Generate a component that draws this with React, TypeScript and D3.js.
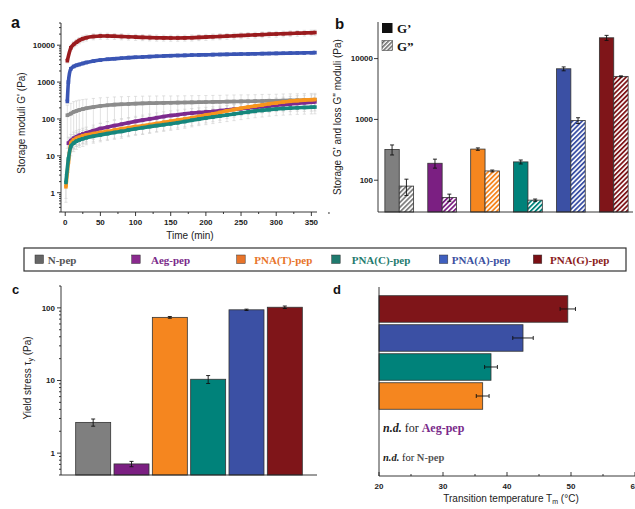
import React from "react";
import * as d3 from "d3";

const W = 635;
const H = 509;

// ---------- shared categories ----------
const peptides = ["N-pep", "Aeg-pep", "PNA(T)-pep", "PNA(C)-pep", "PNA(A)-pep", "PNA(G)-pep"];
const barColors = ["#7f7f7f", "#7b1f82", "#f5861f", "#00827a", "#3b50a4", "#7f1519"];
const lineColors = ["#8c8c8c", "#7d2a8e", "#f7941d", "#16877d", "#3a55b4", "#9a1b1e"];
const legendSwatch = ["#666666", "#8a2a8e", "#e8742a", "#1f7a6e", "#3f5fbf", "#7a0f14"];
const legendText = ["#555555", "#7a2a8a", "#e8742a", "#1f7a6e", "#3a4fa0", "#8a1a1a"];

// ---------- panel a: G' vs time ----------
const timeMin = [1, 3, 4.5, 8, 12, 16, 20, 25, 30, 40, 50, 60, 70, 80, 90, 100, 110, 120, 130, 140, 150, 160, 170, 180, 190, 200, 210, 220, 230, 240, 250, 260, 270, 280, 290, 300, 310, 320, 330, 340, 350, 355];
const gN = [null, 126, null, 140, 155, 165, 175, 185, 195, 210, 225, 235, 245, 250, 255, 260, 265, 268, 270, 273, 275, 278, 280, 282, 285, 287, 290, 292, 295, 297, 300, 302, 305, 307, 310, 313, 316, 319, 322, 325, 328, 330];
const sdN = [null, 110, null, 125, 140, 145, 150, 150, 150, 150, 150, 150, 150, 150, 150, 150, 150, 150, 150, 150, 145, 145, 145, 145, 145, 145, 145, 145, 150, 150, 150, 150, 150, 155, 155, 155, 160, 160, 160, 165, 165, 165];
const gAeg = [null, null, 22, 26, 30, 33, 36, 39, 42, 48, 55, 60, 66, 72, 79, 86, 93, 100, 108, 116, 124, 130, 138, 144, 150, 155, 160, 168, 175, 183, 190, 198, 206, 214, 224, 234, 244, 254, 264, 274, 284, 290];
const sdAeg = [null, null, 10, 12, 14, 15, 16, 17, 18, 20, 22, 24, 26, 28, 30, 32, 34, 36, 38, 40, 42, 44, 46, 48, 50, 52, 54, 56, 58, 60, 62, 64, 66, 68, 70, 72, 74, 76, 78, 80, 82, 84];
const gT = [1.45, null, 6.6, 22, 27, 30, 32, 35, 37, 40, 43, 46, 50, 54, 58, 62, 65, 70, 75, 81, 87, 93, 100, 108, 117, 127, 137, 150, 166, 180, 195, 210, 225, 240, 258, 272, 288, 302, 315, 325, 332, 336];
const sdT = [0.9, null, 3, 9, 11, 12, 13, 14, 15, 16, 17, 18, 20, 21, 23, 24, 26, 28, 30, 32, 34, 36, 39, 42, 45, 49, 53, 58, 63, 68, 73, 78, 83, 88, 93, 98, 103, 108, 112, 116, 120, 122];
const gC = [1.9, null, 8.2, 18, 22, 25, 27, 29, 31, 34, 37, 40, 43, 46, 50, 54, 58, 62, 66, 70, 74, 79, 85, 92, 99, 106, 113, 120, 128, 136, 145, 154, 163, 171, 179, 186, 192, 197, 201, 205, 208, 210];
const sdC = [1.2, null, 4, 8, 9, 10, 10, 11, 11, 12, 13, 14, 15, 16, 17, 18, 20, 21, 22, 24, 25, 27, 29, 31, 33, 36, 38, 40, 43, 46, 49, 52, 55, 58, 60, 63, 65, 67, 68, 70, 71, 72];
const gA = [null, 300, 1000, 2300, 2650, 2850, 3000, 3200, 3400, 3700, 3950, 4150, 4300, 4450, 4600, 4700, 4800, 4900, 5000, 5100, 5200, 5250, 5300, 5400, 5450, 5500, 5550, 5600, 5650, 5700, 5750, 5800, 5850, 5900, 5950, 6000, 6050, 6100, 6150, 6200, 6250, 6300];
const sdA = [null, 40, 100, 200, 220, 240, 250, 260, 280, 300, 320, 330, 340, 350, 360, 370, 380, 390, 400, 400, 410, 410, 420, 420, 430, 430, 440, 440, 440, 450, 450, 460, 460, 460, 470, 470, 480, 480, 480, 490, 490, 500];
const gG = [null, 3800, null, 8500, 10500, 12000, 13500, 15000, 16000, 17200, 17800, 17800, 17500, 17200, 16900, 16600, 16300, 16100, 15900, 15800, 15700, 15700, 15800, 16000, 16300, 16600, 17000, 17300, 17600, 18000, 18300, 18700, 19000, 19400, 19800, 20100, 20500, 20800, 21200, 21500, 21800, 22000];
const sdG = [null, 500, null, 1500, 2000, 2300, 2600, 2800, 3000, 3200, 3300, 3300, 3200, 3200, 3100, 3100, 3000, 3000, 3000, 2900, 2900, 2900, 2900, 3000, 3000, 3100, 3100, 3200, 3200, 3300, 3300, 3400, 3400, 3500, 3500, 3600, 3600, 3700, 3700, 3800, 3800, 3800];
const aTicksX = [0, 50, 100, 150, 200, 250, 300, 350];
const aTicksY = [1, 10, 100, 1000, 10000];

// ---------- panel b: G' and G'' ----------
const moduli = ["G'", "G''"];
const gPrime = [320, 190, 325, 200, 6800, 22000];
const gPrimeErr = [60, 32, 15, 15, 500, 2100];
const gDouble = [80, 52, 142, 47, 960, 5100];
const gDoubleErr = [24, 7, 5, 2, 105, 100];
const bTicksY = [100, 1000, 10000];

// ---------- panel c: yield stress ----------
const yieldStress = [2.65, 0.71, 74, 10.4, 94, 102];
const yieldErr = [0.3, 0.06, 2, 1.3, 2, 4];
const cTicksY = [1, 10, 100];

// ---------- panel d: transition temperature ----------
const dOrder = ["PNA(G)-pep", "PNA(A)-pep", "PNA(C)-pep", "PNA(T)-pep", "Aeg-pep", "N-pep"];
const tmValues = [49.5, 42.5, 37.5, 36.2, null, null];
const tmErr = [1.2, 1.6, 1.0, 1.0, null, null];
const dTicksX = [20, 30, 40, 50, 60];

const SANS = "Arial, 'Liberation Sans', sans-serif";
const SERIF = "'Times New Roman', 'Liberation Serif', serif";

function logMinor(lo: number, hi: number) {
  const out: number[] = [];
  for (let e = Math.floor(Math.log10(lo)); e <= Math.ceil(Math.log10(hi)); e++) {
    for (let m = 2; m <= 9; m++) {
      const v = m * Math.pow(10, e);
      if (v >= lo && v <= hi) out.push(v);
    }
  }
  return out;
}

function PanelA() {
  const x = d3.scaleLinear().domain([-6, 358]).range([61, 317]);
  const y = d3.scaleLog().domain([0.3, 40000]).range([212, 23]).clamp(true);
  const values = [gN, gAeg, gT, gC, gA, gG];
  const sds = [sdN, sdAeg, sdT, sdC, sdA, sdG];
  const drawOrder = [0, 1, 2, 3, 4, 5];
  const line = d3.line<[number, number]>().x((d) => x(d[0])).y((d) => y(d[1])).curve(d3.curveMonotoneX);
  const pts = values.map((vals) =>
    timeMin.map((t, i) => [t, vals[i]] as [number, number | null]).filter((d) => d[1] != null) as [number, number][]
  );
  return (
    <g>
      {/* error bars */}
      {drawOrder.map((s) =>
        timeMin.map((t, i) => {
          const v = values[s][i];
          const sd = sds[s][i];
          if (v == null || sd == null) return null;
          const y1 = y(Math.max(v - sd, 0.3));
          const y2 = y(v + sd);
          const cx = x(t);
          return (
            <g key={`e${s}-${i}`} stroke="#cfcfcf" strokeWidth={0.6}>
              <line x1={cx} x2={cx} y1={y1} y2={y2} />
              <line x1={cx - 1.6} x2={cx + 1.6} y1={y1} y2={y1} />
              <line x1={cx - 1.6} x2={cx + 1.6} y1={y2} y2={y2} />
            </g>
          );
        })
      )}
      {drawOrder.map((s) => (
        <g key={`l${s}`}>
          <path d={line(pts[s]) || ""} fill="none" stroke={lineColors[s]} strokeWidth={3.6} />
          {pts[s].map((d, i) => (
            <rect key={i} x={x(d[0]) - 1.8} y={y(d[1]) - 1.8} width={3.6} height={3.6} fill={lineColors[s]} />
          ))}
        </g>
      ))}
      {/* axes */}
      <g stroke="#222" strokeWidth={0.9}>
        <line x1={61} x2={61} y1={23} y2={212} />
        <line x1={61} x2={317} y1={212} y2={212} />
        {aTicksY.map((v) => <line key={v} x1={57} x2={61} y1={y(v)} y2={y(v)} />)}
        {logMinor(0.3, 40000).map((v) => <line key={v} x1={59} x2={61} y1={y(v)} y2={y(v)} />)}
        {aTicksX.map((v) => <line key={v} x1={x(v)} x2={x(v)} y1={212} y2={216} />)}
        {aTicksX.map((v) => <line key={`m${v}`} x1={x(v + 25)} x2={x(v + 25)} y1={212} y2={214} />)}
      </g>
      <g fontFamily={SANS} fontWeight="bold" fontSize={8} fill="#222">
        {aTicksY.map((v) => (
          <text key={v} x={55} y={y(v)} dy="0.35em" textAnchor="end">{v}</text>
        ))}
        {aTicksX.map((v) => (
          <text key={v} x={x(v)} y={225} textAnchor="middle">{v}</text>
        ))}
      </g>
      <text transform="translate(25,123) rotate(-90)" textAnchor="middle" fontFamily={SANS} fontSize={10} fill="#222">
        Storage moduli G' (Pa)
      </text>
      <text x={190} y={239} textAnchor="middle" fontFamily={SANS} fontSize={10} fill="#222">Time (min)</text>
      <text x={11} y={28} fontFamily={SANS} fontWeight="bold" fontSize={16} fill="#111">a</text>
    </g>
  );
}

function PanelB() {
  const x0 = d3.scaleBand<string>().domain(peptides).range([379, 634]).paddingInner(0.33).paddingOuter(0.137);
  const x1 = d3.scaleBand<string>().domain(moduli).range([0, x0.bandwidth()]);
  const y = d3.scaleLog().domain([30, 40000]).range([212, 22]).clamp(true);
  const series = [
    { vals: gPrime, errs: gPrimeErr, key: moduli[0] },
    { vals: gDouble, errs: gDoubleErr, key: moduli[1] },
  ];
  return (
    <g>
      <defs>
        {peptides.map((p, i) => (
          <pattern key={p} id={`hatch${i}`} patternUnits="userSpaceOnUse" width={3.4} height={3.4} patternTransform="rotate(45)">
            <rect width={3.4} height={3.4} fill="#ffffff" />
            <line x1={0.9} x2={0.9} y1={0} y2={3.4} stroke={barColors[i]} strokeWidth={1.8} />
          </pattern>
        ))}
        <pattern id="hatchLegend" patternUnits="userSpaceOnUse" width={3} height={3} patternTransform="rotate(45)">
          <rect width={3} height={3} fill="#ffffff" />
          <line x1={0.8} x2={0.8} y1={0} y2={3} stroke="#555" strokeWidth={1.4} />
        </pattern>
      </defs>
      {peptides.map((p, i) =>
        series.map((s, k) => {
          const bx = (x0(p) || 0) + (x1(s.key) || 0);
          const bw = x1.bandwidth();
          const v = s.vals[i];
          const e = s.errs[i];
          const cx = bx + bw / 2;
          return (
            <g key={`${p}-${k}`}>
              <rect x={bx} y={y(v)} width={bw} height={212 - y(v)} fill={k === 0 ? barColors[i] : `url(#hatch${i})`} stroke="#333" strokeWidth={0.8} />
              <g stroke="#111" strokeWidth={0.9}>
                <line x1={cx} x2={cx} y1={y(v - e)} y2={y(v + e)} />
                <line x1={cx - 2} x2={cx + 2} y1={y(v - e)} y2={y(v - e)} />
                <line x1={cx - 2} x2={cx + 2} y1={y(v + e)} y2={y(v + e)} />
              </g>
            </g>
          );
        })
      )}
      <g stroke="#222" strokeWidth={0.9}>
        <line x1={378} x2={378} y1={22} y2={212} />
        <line x1={378} x2={633} y1={212} y2={212} />
        {bTicksY.map((v) => <line key={v} x1={374} x2={378} y1={y(v)} y2={y(v)} />)}
      </g>
      <g fontFamily={SANS} fontWeight="bold" fontSize={8} fill="#222">
        {bTicksY.map((v) => (
          <text key={v} x={373} y={y(v)} dy="0.35em" textAnchor="end">{v}</text>
        ))}
      </g>
      <text transform="translate(341,117) rotate(-90)" textAnchor="middle" fontFamily={SANS} fontSize={10} fill="#222">
        Storage G' and loss G'' moduli (Pa)
      </text>
      {/* legend */}
      <rect x={382} y={23} width={10.5} height={10} fill="#111" />
      <rect x={382} y={40.5} width={10.5} height={10} fill="url(#hatchLegend)" stroke="#444" strokeWidth={0.6} />
      <g fontFamily={SERIF} fontWeight="bold" fontSize={13} fill="#111">
        <text x={397} y={33}>G’</text>
        <text x={397} y={50.5}>G”</text>
      </g>
      <text x={335} y={29} fontFamily={SANS} fontWeight="bold" fontSize={15} fill="#111">b</text>
    </g>
  );
}

function Legend() {
  const swX = [35, 131.7, 236.7, 331.7, 439.3, 533.3];
  const txX = [47.7, 151, 254.3, 351.7, 451.7, 550];
  return (
    <g>
      <rect x={24} y={248} width={602} height={23} fill="none" stroke="#333" strokeWidth={1.2} />
      {peptides.map((p, i) => (
        <g key={p}>
          <rect x={swX[i]} y={255} width={8.5} height={8.5} fill={legendSwatch[i]} stroke="#333" strokeWidth={0.5} />
          <text x={txX[i]} y={263.5} fontFamily={SERIF} fontWeight="bold" fontSize={11} fill={legendText[i]}>{p}</text>
        </g>
      ))}
    </g>
  );
}

function PanelC() {
  const x = d3.scaleBand<string>().domain(peptides).range([61, 317]).paddingInner(0.087).paddingOuter(0.383);
  const y = d3.scaleLog().domain([0.5, 200]).range([475, 286]).clamp(true);
  return (
    <g>
      {peptides.map((p, i) => {
        const bx = x(p) || 0;
        const bw = x.bandwidth();
        const v = yieldStress[i];
        const e = yieldErr[i];
        const cx = bx + bw / 2;
        return (
          <g key={p}>
            <rect x={bx} y={y(v)} width={bw} height={475 - y(v)} fill={barColors[i]} stroke="#333" strokeWidth={0.8} />
            <g stroke="#111" strokeWidth={0.9}>
              <line x1={cx} x2={cx} y1={y(v - e)} y2={y(v + e)} />
              <line x1={cx - 2} x2={cx + 2} y1={y(v - e)} y2={y(v - e)} />
              <line x1={cx - 2} x2={cx + 2} y1={y(v + e)} y2={y(v + e)} />
            </g>
          </g>
        );
      })}
      <g stroke="#222" strokeWidth={0.9}>
        <line x1={61} x2={61} y1={286} y2={475} />
        <line x1={61} x2={317} y1={475} y2={475} />
        {cTicksY.map((v) => <line key={v} x1={57} x2={61} y1={y(v)} y2={y(v)} />)}
        {logMinor(0.5, 200).map((v) => <line key={v} x1={59} x2={61} y1={y(v)} y2={y(v)} />)}
      </g>
      <g fontFamily={SANS} fontWeight="bold" fontSize={8} fill="#222">
        {cTicksY.map((v) => (
          <text key={v} x={55} y={y(v)} dy="0.35em" textAnchor="end">{v}</text>
        ))}
      </g>
      <text transform="translate(31,378) rotate(-90)" textAnchor="middle" fontFamily={SANS} fontSize={10} fill="#222">
        Yield stress τ<tspan fontSize={7} dy="2">y</tspan><tspan dy="-2"> (Pa)</tspan>
      </text>
      <text x={12} y={294} fontFamily={SANS} fontWeight="bold" fontSize={13} fill="#111">c</text>
    </g>
  );
}

function PanelD() {
  const x = d3.scaleLinear().domain([20, 60]).range([379, 635]);
  const y = d3.scaleBand<string>().domain(dOrder).range([287, 476]).paddingInner(0.086).paddingOuter(0.3);
  const colorOf = (p: string) => barColors[peptides.indexOf(p)];
  const minor = [25, 35, 45, 55];
  return (
    <g>
      {dOrder.map((p, i) => {
        const v = tmValues[i];
        const e = tmErr[i];
        if (v == null || e == null) return null;
        const by = y(p) || 0;
        const bh = y.bandwidth();
        const cy = by + bh / 2;
        return (
          <g key={p}>
            <rect x={379} y={by} width={x(v) - 379} height={bh} fill={colorOf(p)} stroke="#333" strokeWidth={0.8} />
            <g stroke="#111" strokeWidth={0.9}>
              <line x1={x(v - e)} x2={x(v + e)} y1={cy} y2={cy} />
              <line x1={x(v - e)} x2={x(v - e)} y1={cy - 2} y2={cy + 2} />
              <line x1={x(v + e)} x2={x(v + e)} y1={cy - 2} y2={cy + 2} />
            </g>
          </g>
        );
      })}
      {/* n.d. annotations */}
      <text x={383} y={(y("Aeg-pep") || 0) + y.bandwidth() / 2 + 7} fontFamily={SERIF} fontSize={12} fill="#222">
        <tspan fontWeight="bold" fontStyle="italic">n.d.</tspan>
        <tspan> for </tspan>
        <tspan fontWeight="bold" fill={legendText[1]}>Aeg-pep</tspan>
      </text>
      <text x={383} y={(y("N-pep") || 0) + y.bandwidth() / 2 + 7} fontFamily={SERIF} fontSize={10.5} fill="#222">
        <tspan fontWeight="bold" fontStyle="italic">n.d.</tspan>
        <tspan> for </tspan>
        <tspan fontWeight="bold" fill={legendText[0]}>N-pep</tspan>
      </text>
      <g stroke="#222" strokeWidth={0.9}>
        <line x1={379} x2={379} y1={287} y2={476} />
        <line x1={379} x2={635} y1={476} y2={476} />
        {dTicksX.map((v) => <line key={v} x1={x(v)} x2={x(v)} y1={472} y2={476} />)}
        {minor.map((v) => <line key={v} x1={x(v)} x2={x(v)} y1={474} y2={476} />)}
      </g>
      <g fontFamily={SANS} fontWeight="bold" fontSize={8} fill="#222">
        {dTicksX.map((v) => (
          <text key={v} x={x(v)} y={489} textAnchor="middle">{v}</text>
        ))}
      </g>
      <text x={511} y={502} textAnchor="middle" fontFamily={SANS} fontSize={10} fill="#222">
        Transition temperature T<tspan fontSize={7} dy="2">m</tspan><tspan dy="-2"> (°C)</tspan>
      </text>
      <text x={333} y={294} fontFamily={SANS} fontWeight="bold" fontSize={13} fill="#111">d</text>
    </g>
  );
}

export default function App() {
  return (
    <svg width={W} height={H} viewBox={`0 0 ${W} ${H}`} style={{ position: "absolute", left: 0, top: 0, background: "#fff" }}>
      <rect width={W} height={H} fill="#fff" />
      <PanelA />
      <PanelB />
      <Legend />
      <PanelC />
      <PanelD />
    </svg>
  );
}
